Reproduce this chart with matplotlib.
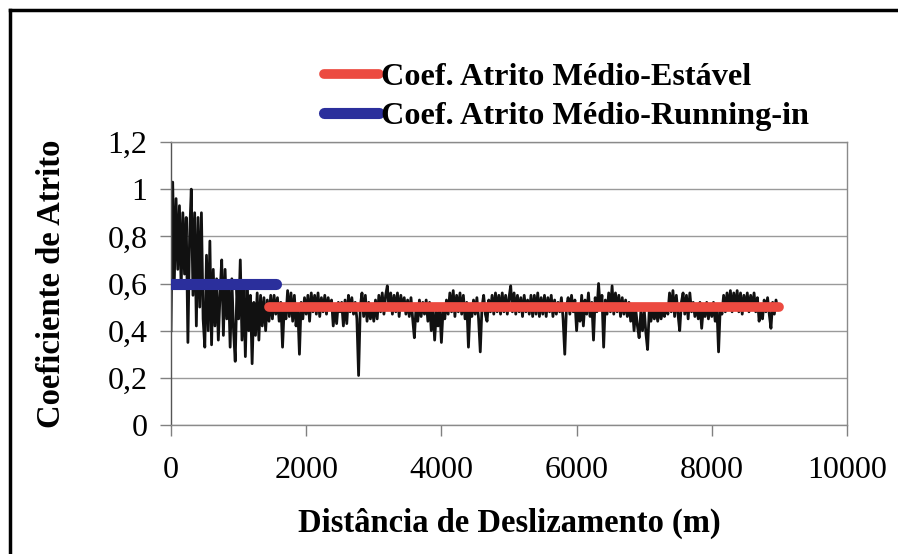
import matplotlib.pyplot as plt
import numpy as np
from matplotlib.lines import Line2D

plt.rcParams["font.family"] = ["Liberation Serif", "DejaVu Serif"]

# sampling step of the friction signal (m)
STEP = 25

# friction coefficient, one value every 25 m, 0..9000 m
coef_atrito = [
    0.40, 1.03, 0.62, 0.96, 0.66, 0.93, 0.58, 0.90, 0.64, 0.88,
    0.35, 0.80, 1.00, 0.55, 0.90, 0.42, 0.88, 0.50, 0.90, 0.45,
    0.33, 0.72, 0.40, 0.78, 0.34, 0.66, 0.42, 0.62, 0.36, 0.55,
    0.70, 0.38, 0.66, 0.45, 0.60, 0.33, 0.62, 0.40, 0.27, 0.58,
    0.45, 0.70, 0.36, 0.60, 0.29, 0.58, 0.40, 0.55, 0.26, 0.52,
    0.38, 0.56, 0.36, 0.55, 0.42, 0.54, 0.40, 0.53, 0.44, 0.55,
    0.45, 0.55, 0.47, 0.54, 0.44, 0.52, 0.33, 0.50, 0.45, 0.57,
    0.46, 0.56, 0.44, 0.55, 0.42, 0.50, 0.30, 0.52, 0.45, 0.54,
    0.47, 0.55, 0.44, 0.56, 0.48, 0.55, 0.47, 0.56, 0.46, 0.54,
    0.48, 0.55, 0.47, 0.54, 0.49, 0.53, 0.42, 0.50, 0.43, 0.52,
    0.48, 0.52, 0.42, 0.53, 0.43, 0.55, 0.48, 0.54, 0.47, 0.52,
    0.45, 0.21, 0.50, 0.56, 0.46, 0.55, 0.44, 0.52, 0.45, 0.50,
    0.44, 0.53, 0.45, 0.55, 0.48, 0.56, 0.47, 0.55, 0.59, 0.49,
    0.56, 0.47, 0.55, 0.48, 0.56, 0.46, 0.55, 0.49, 0.54, 0.47,
    0.53, 0.46, 0.54, 0.45, 0.37, 0.50, 0.44, 0.53, 0.46, 0.52,
    0.47, 0.53, 0.44, 0.52, 0.40, 0.50, 0.36, 0.48, 0.42, 0.50,
    0.35, 0.49, 0.45, 0.53, 0.47, 0.56, 0.48, 0.57, 0.46, 0.55,
    0.48, 0.56, 0.47, 0.55, 0.45, 0.52, 0.33, 0.50, 0.46, 0.53,
    0.47, 0.54, 0.45, 0.31, 0.50, 0.55, 0.47, 0.44, 0.53, 0.48,
    0.55, 0.47, 0.56, 0.48, 0.55, 0.47, 0.56, 0.48, 0.55, 0.47,
    0.54, 0.59, 0.48, 0.56, 0.47, 0.55, 0.48, 0.54, 0.46, 0.55,
    0.48, 0.53, 0.47, 0.55, 0.46, 0.55, 0.47, 0.56, 0.46, 0.54,
    0.47, 0.55, 0.46, 0.54, 0.48, 0.55, 0.46, 0.53, 0.47, 0.52,
    0.48, 0.54, 0.45, 0.30, 0.50, 0.54, 0.47, 0.55, 0.48, 0.53,
    0.40, 0.51, 0.44, 0.55, 0.42, 0.53, 0.47, 0.56, 0.46, 0.52,
    0.36, 0.54, 0.48, 0.60, 0.49, 0.55, 0.33, 0.53, 0.47, 0.56,
    0.48, 0.59, 0.47, 0.56, 0.48, 0.55, 0.46, 0.54, 0.47, 0.53,
    0.46, 0.52, 0.44, 0.50, 0.40, 0.49, 0.42, 0.37, 0.48, 0.40,
    0.49, 0.39, 0.32, 0.49, 0.44, 0.50, 0.45, 0.49, 0.44, 0.50,
    0.45, 0.49, 0.46, 0.51, 0.47, 0.56, 0.48, 0.57, 0.46, 0.55,
    0.47, 0.40, 0.52, 0.56, 0.47, 0.55, 0.45, 0.56, 0.48, 0.52,
    0.46, 0.51, 0.45, 0.52, 0.41, 0.50, 0.46, 0.52, 0.45, 0.51,
    0.46, 0.52, 0.44, 0.50, 0.31, 0.50, 0.47, 0.55, 0.48, 0.56,
    0.49, 0.57, 0.48, 0.56, 0.49, 0.57, 0.48, 0.56, 0.47, 0.55,
    0.49, 0.56, 0.48, 0.55, 0.49, 0.56, 0.48, 0.54, 0.44, 0.50,
    0.45, 0.53, 0.48, 0.54, 0.47, 0.41, 0.52, 0.47, 0.53, 0.49,
    0.51,
]
distancia = np.arange(len(coef_atrito)) * STEP

# mean values (running-in and steady state)
media_running_in = 0.6
running_in_inicio, running_in_fim = 0, 1550
media_estavel = 0.5
estavel_inicio, estavel_fim = 1450, 9000

y_ticks = [0, 0.2, 0.4, 0.6, 0.8, 1.0, 1.2]
y_tick_labels = ["0", "0,2", "0,4", "0,6", "0,8", "1", "1,2"]
x_ticks = [0, 2000, 4000, 6000, 8000, 10000]

fig = plt.figure(figsize=(8.98, 5.54), dpi=100)
ax = fig.add_axes([171 / 898, 129 / 554, 676 / 898, 283 / 554])

ax.plot(distancia, coef_atrito, color="#111111", lw=2.0, zorder=2)
ax.plot([estavel_inicio, estavel_fim], [media_estavel] * 2, color="#ec4a40",
        lw=7, solid_capstyle="round", zorder=3,
        label="Coef. Atrito Médio-Estável")
ax.plot([running_in_inicio, running_in_fim], [media_running_in] * 2,
        color="#2b2f9c", lw=8, solid_capstyle="round", zorder=3,
        label="Coef. Atrito Médio-Running-in")

ax.set_xlim(0, 10000)
ax.set_ylim(0, 1.2)
ax.set_xticks(x_ticks)
ax.set_yticks(y_ticks)
ax.set_yticklabels(y_tick_labels)
ax.tick_params(axis="both", labelsize=23, color="#808080", length=8,
               width=1, direction="out")
ax.tick_params(axis="x", pad=14)
ax.tick_params(axis="y", pad=9)
ax.yaxis.grid(True, color="#9a9a9a", lw=1)
ax.set_axisbelow(True)
for s in ax.spines.values():
    s.set_color("#8a8a8a")
    s.set_linewidth(1)
ax.spines["left"].set_color("#555555")

ax.set_xlabel("Distância de Deslizamento (m)", fontsize=23.5,
              fontweight="bold", labelpad=17)
ax.set_ylabel("Coeficiente de Atrito", fontsize=23.5, fontweight="bold",
              labelpad=29)

leg = ax.legend(loc="center left", bbox_to_anchor=(324 / 898, 1 - 97 / 554),
                bbox_transform=fig.transFigure, frameon=False,
                prop={"size": 23.2, "weight": "bold"}, handlelength=1.7,
                handletextpad=0.08, labelspacing=0.3, borderaxespad=0,
                borderpad=0)

# scanned frame around the chart
fig.add_artist(Line2D([10 / 898, 10 / 898], [0, 1 - 10 / 554],
                      transform=fig.transFigure, color="black", lw=2.5))
fig.add_artist(Line2D([10 / 898, 1], [1 - 10 / 554, 1 - 10 / 554],
                      transform=fig.transFigure, color="black", lw=2.5))

fig.savefig("out.png", dpi=100)
